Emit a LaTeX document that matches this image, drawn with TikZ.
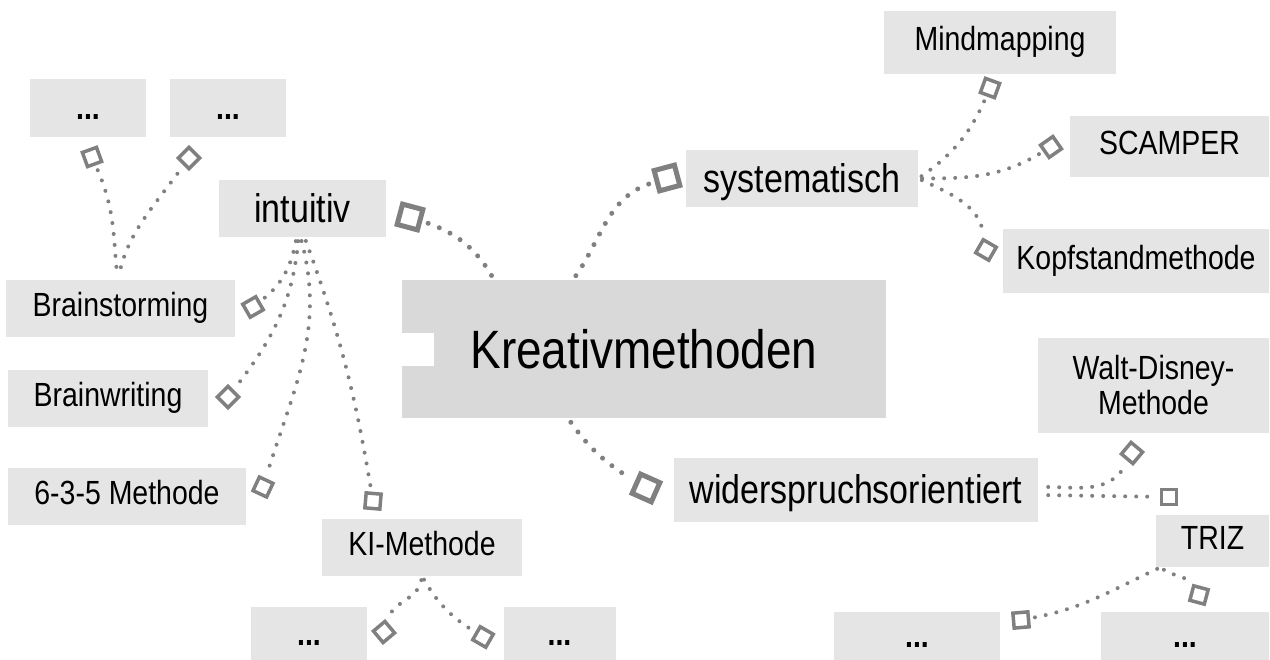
\documentclass[tikz,border=0pt]{standalone}
\usepackage{fontspec}
\setmainfont{Liberation Sans}[FakeStretch=0.85]
\usepackage{tikz}
\usetikzlibrary{positioning}

\begin{document}
\begin{tikzpicture}[x=1pt, y=1pt,
    zentrum/.style={rectangle, fill=black!15, inner sep=0pt, font=\fontsize{54}{60}\selectfont, text height=39pt, text depth=0pt},
    ebene1/.style={rectangle, fill=black!10, inner sep=0pt, font=\fontsize{40}{46}\selectfont, text height=28pt, text depth=0pt},
    kasten/.style={rectangle, fill=black!10, inner sep=0pt, font=\fontsize{33.5}{35}\selectfont},
    ebene2/.style={kasten, text height=24pt, text depth=7.4pt},
    punkte/.style={kasten, font=\fontsize{33.5}{35}\selectfont\bfseries, text height=24pt, text depth=0pt},
    grossmarke/.style={rectangle, draw=black!50, line width=5pt, minimum size=21pt, inner sep=0pt},
    kleinmarke/.style={rectangle, draw=black!50, line width=3.5pt, minimum size=15pt, inner sep=0pt},
    hauptlinie/.style={draw=black!50, line width=5pt, line cap=round, dash pattern=on 0pt off 12pt, shorten <=5pt, shorten >=5pt},
    linie/.style={draw=black!50, line width=4pt, line cap=round, dash pattern=on 0pt off 11pt, shorten <=4pt, shorten >=4pt}]
    \useasboundingbox (0,0) rectangle (1270,660);

    \node (zentral) [zentrum, minimum width=484pt, minimum height=138pt] at (644,311) {Kreativmethoden};
    \fill[white] ([yshift=-17pt]zentral.west) rectangle ++(32,33);

    \node (intuitiv) [ebene1, minimum width=167pt, minimum height=57pt] at (302.5,451.5) {intuitiv};
    \node (systematisch) [ebene1, minimum width=232pt, minimum height=57pt] at (802,481.5) {systematisch};
    \node (widerspruch) [ebene1, minimum width=364pt, minimum height=64pt] at (856,170) {widerspruchsorientiert};

    \node (brainstorming) [ebene2, minimum width=229pt, minimum height=57pt] at (120.5,351.5) {Brainstorming};
    \node (brainwriting) [ebene2, minimum width=200pt, minimum height=57pt] at (108,261.5) {Brainwriting};
    \node (methode635) [ebene2, minimum width=238pt, minimum height=57pt] at (127,163.5) {6-3-5 Methode};
    \node (kimethode) [ebene2, minimum width=200pt, minimum height=57pt] at (422,112.5) {KI-Methode};
    \node (punkteA) [punkte, minimum width=116pt, minimum height=58pt] at (88,552) {...};
    \node (punkteB) [punkte, minimum width=116pt, minimum height=58pt] at (228,552) {...};
    \node (punkteC) [punkte, minimum width=116pt, minimum height=53pt] at (309,26.5) {...};
    \node (punkteD) [punkte, minimum width=112pt, minimum height=53pt] at (559.5,26.5) {...};

    \node (mindmapping) [ebene2, minimum width=232pt, minimum height=63pt] at (1000,617.5) {Mindmapping};
    \node (scamper) [ebene2, minimum width=199pt, minimum height=61pt] at (1169.5,513.5) {SCAMPER};
    \node (kopfstand) [ebene2, minimum width=266pt, minimum height=64pt] at (1136,399) {Kopfstandmethode};

    \node (waltdisney) [kasten, align=center, minimum width=231pt, minimum height=95pt] at (1153.5,274.5) {Walt-Disney-\\Methode};
    \node (triz) [ebene2, minimum width=113pt, minimum height=52pt] at (1212.5,119) {TRIZ};
    \node (punkteE) [punkte, minimum width=166pt, minimum height=48pt] at (917,24) {...};
    \node (punkteF) [punkte, minimum width=168pt, minimum height=48pt] at (1185,24) {...};

    \node (mint) [grossmarke, rotate=-15] at (410,443) {};
    \node (msys) [grossmarke, rotate=15] at (667,482) {};
    \node (mwid) [grossmarke, rotate=-24] at (646,172) {};

    \node (mbs) [kleinmarke, rotate=30] at (253,353) {};
    \node (mbw) [kleinmarke, rotate=45] at (228,263) {};
    \node (m635) [kleinmarke, rotate=-25] at (263,173) {};
    \node (mki) [kleinmarke, rotate=-5] at (373,159) {};
    \node (mpA) [kleinmarke, rotate=20] at (92,503) {};
    \node (mpB) [kleinmarke, rotate=45] at (189,502) {};
    \node (mmind) [kleinmarke, rotate=-20] at (990,572) {};
    \node (mscam) [kleinmarke, rotate=35] at (1051,513) {};
    \node (mkopf) [kleinmarke, rotate=-30] at (986,410) {};
    \node (mwalt) [kleinmarke, rotate=50] at (1132,207) {};
    \node (mtriz) [kleinmarke] at (1169,163) {};
    \node (mpC) [kleinmarke, rotate=40] at (384,28) {};
    \node (mpD) [kleinmarke, rotate=-30] at (483,23) {};
    \node (mpE) [kleinmarke, rotate=5] at (1021,40) {};
    \node (mpF) [kleinmarke, rotate=-15] at (1199,65) {};

    \draw [hauptlinie] ([xshift=-150pt]zentral.north) to[out=120, in=-15] (mint);
    \draw [hauptlinie] ([xshift=-71pt]zentral.north) to[out=55, in=195] (msys);
    \draw [hauptlinie] ([xshift=-76pt]zentral.south) to[out=-55, in=155] (mwid);

    \draw [linie] ([xshift=-6pt]intuitiv.south) to[out=-100, in=30] (mbs);
    \draw [linie] ([xshift=-4pt]intuitiv.south) to[out=-95, in=45] (mbw);
    \draw [linie] ([xshift=-2pt]intuitiv.south) to[out=-75, in=75] (m635);
    \draw [linie] ([xshift=2pt]intuitiv.south) to[out=-70, in=100] (mki);

    \draw [linie, shorten <=13pt] ([xshift=-3pt]brainstorming.north) to[out=95, in=-70] (mpA);
    \draw [linie, shorten <=13pt] ([xshift=-3pt]brainstorming.north) to[out=75, in=-135] (mpB);

    \draw [linie] (systematisch.east) to[out=35, in=-110] (mmind);
    \draw [linie] (systematisch.east) to[out=0, in=-155] (mscam);
    \draw [linie] (systematisch.east) to[out=-25, in=105] (mkopf);

    \draw [linie] (kimethode.south) to[out=-100, in=60] (mpC);
    \draw [linie] (kimethode.south) to[out=-60, in=155] (mpD);

    \draw [linie, shorten <=10pt] ([yshift=3pt]widerspruch.east) to[out=0, in=-130] (mwalt);
    \draw [linie, shorten <=10pt] ([yshift=-5pt]widerspruch.east) -- (mtriz);

    \draw [linie] ([xshift=5pt]triz.south west) to[out=205, in=10] (mpE);
    \draw [linie] ([xshift=5pt]triz.south west) to[out=-40, in=135] (mpF);
\end{tikzpicture}
\end{document}
